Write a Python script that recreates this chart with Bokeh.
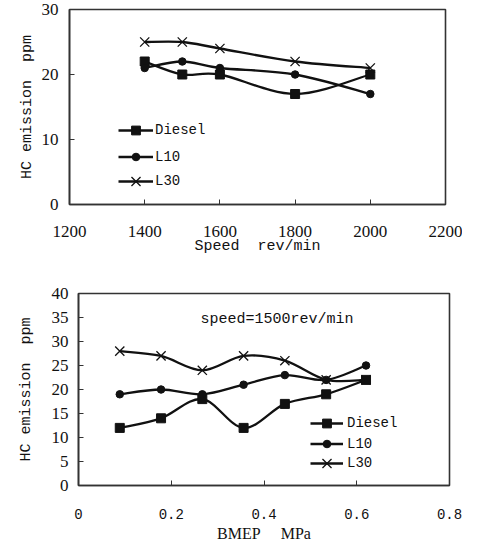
from bokeh.plotting import figure
from bokeh.models import Range1d, FixedTicker, Legend, LegendItem, Label
from bokeh.embed import file_html
from bokeh.resources import INLINE

# ---- data: top chart ----
speed = [1400, 1500, 1600, 1800, 2000]
top_diesel = [22, 20, 20, 17, 20]
top_l10 = [21, 22, 21, 20, 17]
top_l30 = [25, 25, 24, 22, 21]
top_xticks = [1200, 1400, 1600, 1800, 2000, 2200]
top_yticks = [0, 10, 20, 30]

# ---- data: bottom chart ----
bmep = [0.089, 0.178, 0.267, 0.356, 0.445, 0.534, 0.62]
bot_diesel = [12, 14, 18, 12, 17, 19, 22]
bot_l10 = [19, 20, 19, 21, 23, 22, 25]
bot_l30 = [28, 27, 24, 27, 26, 22, 22]
bot_xticks = [0, 0.2, 0.4, 0.6, 0.8]
bot_xlabels = ["0", "0.2", "0.4", "0.6", "0.8"]
bot_yticks = [0, 5, 10, 15, 20, 25, 30, 35, 40]
note_text = "speed=1500rev/min"
note_x, note_y = 0.263, 34.5

series_names = ["Diesel", "L10", "L30"]
NB = "\u00a0"
top_xlabel = "Speed" + NB + " rev/min"
bot_xlabel = "BMEP" + NB * 4 + " MPa"
ylabel = "HC emission" + NB + " ppm"

SERIF = "Liberation Serif"
MONO = "Liberation Mono"
INK = "#111111"
FRAME = "#333333"


def bezier_parts(xs, ys):
    """Control points for a smooth curve through the points (Excel-like)."""
    n = len(xs)
    out = dict(x0=[], y0=[], x1=[], y1=[], cx0=[], cy0=[], cx1=[], cy1=[])
    for i in range(n - 1):
        p0 = i - 1 if i > 0 else i
        p3 = i + 2 if i + 2 < n else i + 1
        out["x0"].append(xs[i]); out["y0"].append(ys[i])
        out["x1"].append(xs[i + 1]); out["y1"].append(ys[i + 1])
        out["cx0"].append(xs[i] + (xs[i + 1] - xs[p0]) / 6.0)
        out["cy0"].append(ys[i] + (ys[i + 1] - ys[p0]) / 6.0)
        out["cx1"].append(xs[i + 1] - (xs[p3] - xs[i]) / 6.0)
        out["cy1"].append(ys[i + 1] - (ys[p3] - ys[i]) / 6.0)
    return out


def style(p, xticks, yticks, xfont, xsize, xstand, ystand, xlab_font, xlab_size, xlab_stand, ylab_stand):
    p.xgrid.visible = False
    p.ygrid.visible = False
    p.outline_line_color = FRAME
    p.outline_line_width = 1.6
    p.background_fill_color = "white"
    p.border_fill_color = "white"
    for ax in (p.xaxis[0], p.yaxis[0]):
        ax.axis_line_color = FRAME
        ax.axis_line_width = 1.6
        ax.major_tick_in = 5
        ax.major_tick_out = 0
        ax.major_tick_line_color = FRAME
        ax.major_tick_line_width = 1
        ax.minor_tick_line_color = None
        ax.major_label_text_color = INK
        ax.axis_label_text_color = INK
        ax.axis_label_text_font_style = "normal"
    p.xaxis[0].ticker = FixedTicker(ticks=xticks)
    p.yaxis[0].ticker = FixedTicker(ticks=yticks)
    p.xaxis[0].major_label_text_font = xfont
    p.xaxis[0].major_label_text_font_size = xsize
    p.xaxis[0].major_label_standoff = xstand
    p.yaxis[0].major_label_text_font = SERIF
    p.yaxis[0].major_label_text_font_size = "17px"
    p.yaxis[0].major_label_standoff = ystand
    p.xaxis[0].axis_label_text_font = xlab_font
    p.xaxis[0].axis_label_text_font_size = xlab_size
    p.xaxis[0].axis_label_standoff = xlab_stand
    p.yaxis[0].axis_label_text_font = MONO
    p.yaxis[0].axis_label_text_font_size = "15px"
    p.yaxis[0].axis_label_standoff = ylab_stand


MARKERS = ["square", "circle", "x"]
SIZES = [9, 7.5, 13]


def add_series(p, xs, ys_list):
    items = []
    for name, ys, mk, sz in zip(series_names, ys_list, MARKERS, SIZES):
        b = bezier_parts(xs, ys)
        r_line = p.bezier(line_color=INK, line_width=2.3, **b)
        if mk == "x":
            r_pt = p.scatter(xs, ys, marker=mk, size=sz, line_color=INK, line_width=1.3)
        else:
            r_pt = p.scatter(xs, ys, marker=mk, size=sz, fill_color=INK, line_color=INK)
        items.append(LegendItem(label=name, renderers=[r_line, r_pt]))
    return items


def add_legends(p, items, x, centers, glyph_w, standoff):
    # one legend per row so that each marker keeps its own size
    for item, cy, sz in zip(items, centers, SIZES):
        h = int(round(sz / 0.4))
        leg = Legend(items=[item], location=(x, int(round(cy - h / 2))), padding=0, margin=0,
                     glyph_width=glyph_w, glyph_height=h, label_height=h, label_standoff=standoff,
                     border_line_color=None, background_fill_alpha=0,
                     label_text_font=MONO, label_text_font_size="14px", label_text_color=INK)
        p.add_layout(leg, "center")


# ---------------- top chart ----------------
p1 = figure(width=462, height=260, output_backend="svg", toolbar_location=None,
            x_range=Range1d(1200, 2200), y_range=Range1d(0, 30),
            min_border_left=69, min_border_right=17, min_border_top=9, min_border_bottom=56)
p1.xaxis.axis_label = top_xlabel
p1.yaxis.axis_label = ylabel
style(p1, top_xticks, top_yticks, SERIF, "17px", 21, 11, MONO, "15px", -2, 3)
items1 = add_series(p1, speed, [top_diesel, top_l10, top_l30])
add_legends(p1, items1, 49, [74, 48, 23], 35, 2)

# ---------------- bottom chart ----------------
p2 = figure(width=462, height=284, output_backend="svg", toolbar_location=None,
            x_range=Range1d(0, 0.8), y_range=Range1d(0, 40),
            min_border_left=78, min_border_right=13, min_border_top=33, min_border_bottom=52)
p2.xaxis.axis_label = bot_xlabel
p2.yaxis.axis_label = ylabel
style(p2, bot_xticks, bot_yticks, MONO, "14px", 23, 10, SERIF, "16px", 3, 14)
p2.xaxis[0].major_label_overrides = {t: s for t, s in zip(bot_xticks, bot_xlabels)}
items2 = add_series(p2, bmep, [bot_diesel, bot_l10, bot_l30])
add_legends(p2, items2, 232, [62, 42, 22], 33, 4)
p2.add_layout(Label(x=note_x, y=note_y, text=note_text, text_font=MONO,
                    text_font_size="15px", text_baseline="middle", text_color=INK))

open("out.html", "w").write(file_html([p1, p2], INLINE))
